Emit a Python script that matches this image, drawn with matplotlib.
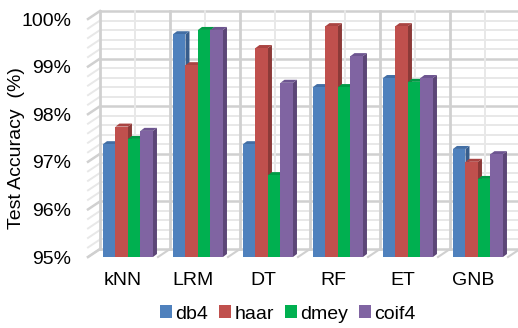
import numpy as np
import matplotlib
matplotlib.use("Agg")
import matplotlib.pyplot as plt
from matplotlib.patches import Polygon, Patch

plt.rcParams['font.family'] = ['Liberation Sans', 'DejaVu Sans']

# test accuracy (%) per classifier and wavelet
classifiers = ['kNN', 'LRM', 'DT', 'RF', 'ET', 'GNB']
wavelets = ['db4', 'haar', 'dmey', 'coif4']
db4 = [97.37, 99.68, 97.37, 98.57, 98.76, 97.27]
haar = [97.74, 99.03, 99.39, 99.85, 99.85, 97.00]
dmey = [97.48, 99.77, 96.72, 98.57, 98.68, 96.64]
coif4 = [97.65, 99.77, 98.66, 99.22, 98.76, 97.16]
yticks = [95, 96, 97, 98, 99, 100]

series = [db4, haar, dmey, coif4]
front = ['#4F81BD', '#C0504D', '#00B050', '#8064A2']
side = ['#375D8C', '#8C3A38', '#007E3A', '#5C4677']
top = ['#426EA4', '#A94442', '#009A45', '#6D5590']

W, H = 518, 328
fig = plt.figure(figsize=(W / 100, H / 100), dpi=100)
ax = fig.add_axes([88 / W, (H - 257) / H, 430 / W, 247 / H])

px_x = 1 / 70.0      # category units per pixel
px_y = 1 / 47.6      # percent per pixel
wall_dx, wall_dy = 12 * px_x, 8 * px_y
bar_dx, bar_dy = 4 * px_x, 3 * px_y

ymin, ymax = 95, 100
n = len(classifiers)
ax.set_xlim(-0.5, -0.5 + 430 * px_x)
ax.set_ylim(ymin, ymin + 247 * px_y)

# walls: horizontal grid every 0.2 %, darker at whole percents
grid_major, grid_minor = '#D0D0D0', '#E8E8E8'
for k in range(26):
    y = ymin + k * 0.2
    major = k % 5 == 0
    c = grid_major if major else grid_minor
    lw = 1.8 if major else 1.4
    ax.plot([-0.5 + wall_dx, n - 0.5 + wall_dx], [y + wall_dy, y + wall_dy],
            color=c, lw=lw, zorder=1, clip_on=False)
    ax.plot([-0.5, -0.5 + wall_dx], [y, y + wall_dy], color=c, lw=lw,
            zorder=1, clip_on=False)

# vertical lines on back wall and floor diagonals
for i in range(n + 1):
    xb = i - 0.5
    ax.plot([xb + wall_dx, xb + wall_dx], [ymin + wall_dy, ymax + wall_dy],
            color=grid_major, lw=2.0, zorder=1, clip_on=False)
    ax.plot([xb, xb + wall_dx], [ymin, ymin + wall_dy], color=grid_major,
            lw=1.5, zorder=1, clip_on=False)
    if i < n:
        ax.plot([i + wall_dx, i + wall_dx], [ymin + wall_dy, ymax + wall_dy],
                color=grid_minor, lw=1.4, zorder=1, clip_on=False)

# 3d-ish bars: front face via ax.bar, side and top faces as polygons
w = 0.1786
x = np.arange(n)
for j, vals in enumerate(series):
    xs = x + 0.071 + (j - 1.5) * w
    for i in range(n):
        x0 = xs[i] - w / 2
        x1 = xs[i] + w / 2
        v = vals[i]
        z = 3 + i * 10 + j * 2
        ax.bar(xs[i], v - ymin, w, bottom=ymin, color=front[j], lw=0,
               zorder=z)
        ax.add_patch(Polygon([(x1, ymin), (x1 + bar_dx, ymin + bar_dy),
                              (x1 + bar_dx, v + bar_dy), (x1, v)],
                             closed=True, fc=side[j], lw=0, zorder=z - 1))
        ax.add_patch(Polygon([(x0, v), (x0 + bar_dx, v + bar_dy),
                              (x1 + bar_dx, v + bar_dy), (x1, v)],
                             closed=True, fc=top[j], lw=0, zorder=z - 1))

for s in ax.spines.values():
    s.set_visible(False)
ax.set_xticks(x)
ax.set_xticklabels(classifiers, fontsize=14)
ax.set_yticks(yticks)
ax.set_yticklabels([f'{t}%' for t in yticks], fontsize=14)
ax.tick_params(axis='y', length=0, pad=12)
ax.tick_params(axis='x', length=0, pad=11)

fig.text(17 / W, (H - 148) / H, 'Test Accuracy  (%)', rotation=90,
         ha='center', va='center', fontsize=14)

handles = [Patch(facecolor=front[j], label=wavelets[j]) for j in range(4)]
fig.legend(handles=handles, loc='center', bbox_to_anchor=(288 / W, 14 / H),
           ncol=4, frameon=False, fontsize=14, handlelength=0.6,
           handleheight=0.6, handletextpad=0.2, columnspacing=0.55,
           borderaxespad=0, borderpad=0)

fig.savefig('out.png', dpi=100)
